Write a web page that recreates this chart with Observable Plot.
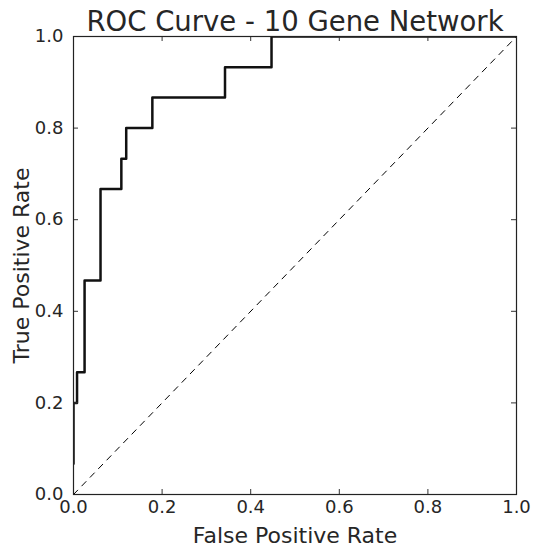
<!DOCTYPE html>
<html><head><meta charset="utf-8">
<script src="https://cdn.jsdelivr.net/npm/d3@7"></script>
<script src="https://cdn.jsdelivr.net/npm/@observablehq/plot@0.6"></script>
<style>html,body{margin:0;padding:0;background:#fff} svg{display:block}</style>
</head><body><div id="chart"></div>
<script>
const title = "ROC Curve - 10 Gene Network";
const xLabel = "False Positive Rate";
const yLabel = "True Positive Rate";
const fpr = [0, 0, 0.008, 0.008, 0.025, 0.025, 0.061, 0.061, 0.108, 0.108, 0.119, 0.119, 0.178, 0.178, 0.342, 0.342, 0.447, 0.447, 1.0];
const tpr = [0.067, 0.2, 0.2, 0.267, 0.267, 0.467, 0.467, 0.667, 0.667, 0.733, 0.733, 0.8, 0.8, 0.867, 0.867, 0.933, 0.933, 1.0, 1.0];
const chanceX = [0, 1];
const chanceY = [0, 1];
const ticks = [0, 0.2, 0.4, 0.6, 0.8, 1.0];

const W = 534, H = 548;
const mL = 73, mR = 18, mT = 36, mB = 54;
const iw = W - mL - mR, ih = H - mT - mB;
const tk = 5;

const roc = fpr.map((x, i) => ({x, y: tpr[i]}));
const chance = chanceX.map((x, i) => ({x, y: chanceY[i]}));

const chart = Plot.plot({
  width: W, height: H,
  marginLeft: mL, marginRight: mR, marginTop: mT, marginBottom: mB,
  style: {fontFamily: "'DejaVu Sans', sans-serif", color: "#262626", background: "#fff"},
  x: {domain: [0, 1]},
  y: {domain: [0, 1]},
  marks: [
    Plot.line(chance, {x: "x", y: "y", stroke: "#000", strokeWidth: 1, strokeDasharray: "6,6"}),
    Plot.line(roc, {x: "x", y: "y", stroke: "#111", strokeWidth: 2.5, clip: true}),
    Plot.tickX(ticks, {x: d => d, insetTop: ih - tk, stroke: "#333"}),
    Plot.tickX(ticks, {x: d => d, insetBottom: ih - tk, stroke: "#333"}),
    Plot.tickY(ticks, {y: d => d, insetRight: iw - tk, stroke: "#333"}),
    Plot.tickY(ticks, {y: d => d, insetLeft: iw - tk, stroke: "#333"}),
    Plot.frame({stroke: "#222", strokeWidth: 1.2}),
    Plot.axisX(ticks, {tickSize: 0, tickPadding: 6, label: null, fontSize: 18, tickFormat: d3.format(".1f")}),
    Plot.axisY(ticks, {tickSize: 0, tickPadding: 10, label: null, fontSize: 18, tickFormat: d3.format(".1f")}),
    Plot.text([xLabel], {text: d => d, frameAnchor: "bottom", dy: 48, lineAnchor: "bottom", textAnchor: "middle", fontSize: 22}),
    Plot.text([yLabel], {text: d => d, frameAnchor: "left", dx: -45, rotate: -90, lineAnchor: "bottom", textAnchor: "middle", fontSize: 22}),
    Plot.text([title], {text: d => d, frameAnchor: "top", dy: -6, lineAnchor: "bottom", textAnchor: "middle", fontSize: 27.5})
  ]
});
document.getElementById("chart").appendChild(chart);
</script>
</body></html>
